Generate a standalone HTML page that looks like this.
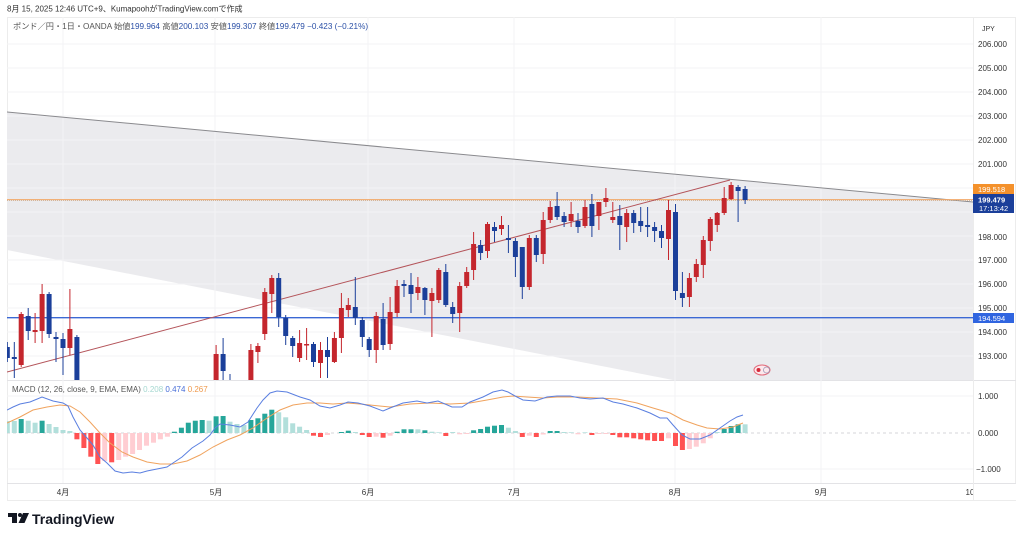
<!DOCTYPE html>
<html><head><meta charset="utf-8">
<style>
html,body{margin:0;padding:0;background:#fff;}
body{width:1024px;height:538px;overflow:hidden;position:relative;font-family:"Liberation Sans","Noto Sans CJK JP",sans-serif;}
svg{position:absolute;left:0;top:0;}
text{font-family:"Liberation Sans","Noto Sans CJK JP",sans-serif;}
</style></head>
<body>
<svg width="1024" height="538" viewBox="0 0 1024 538" xmlns="http://www.w3.org/2000/svg">
<defs>
<clipPath id="mp"><rect x="7" y="17" width="966" height="363"/></clipPath>
<clipPath id="mc"><rect x="7" y="380" width="966" height="103"/></clipPath>
</defs>
<!-- header -->
<text x="7" y="11.5" font-size="8" fill="#333">8月 15, 2025 12:46 UTC+9、KumapoohがTradingView.comで作成</text>

<!-- frame -->
<rect x="7.5" y="17.5" width="1008" height="483" fill="none" stroke="#ececec"/>

<!-- main pane -->
<g clip-path="url(#mp)">
<polygon points="7,112 973,202 973,380 673,380 7,250" fill="#ebebee"/>
<g stroke="#f3f3f5" stroke-width="1">
<line x1="7" y1="44" x2="973" y2="44"/><line x1="7" y1="68" x2="973" y2="68"/><line x1="7" y1="92" x2="973" y2="92"/><line x1="7" y1="116" x2="973" y2="116"/><line x1="7" y1="140" x2="973" y2="140"/><line x1="7" y1="164" x2="973" y2="164"/><line x1="7" y1="188" x2="973" y2="188"/><line x1="7" y1="212" x2="973" y2="212"/><line x1="7" y1="236" x2="973" y2="236"/><line x1="7" y1="260" x2="973" y2="260"/><line x1="7" y1="284" x2="973" y2="284"/><line x1="7" y1="308" x2="973" y2="308"/><line x1="7" y1="332" x2="973" y2="332"/><line x1="7" y1="356" x2="973" y2="356"/>
<line x1="63" y1="17" x2="63" y2="380"/><line x1="215" y1="17" x2="215" y2="380"/><line x1="368" y1="17" x2="368" y2="380"/><line x1="514" y1="17" x2="514" y2="380"/><line x1="675" y1="17" x2="675" y2="380"/><line x1="821" y1="17" x2="821" y2="380"/>
</g>
<line x1="7" y1="112" x2="973" y2="202" stroke="#8a8a8e" stroke-width="1"/>
<line x1="7" y1="199.6" x2="973" y2="199.6" stroke="#f2a766" stroke-width="1"/>
<line x1="7" y1="200.6" x2="973" y2="200.6" stroke="#c9a88a" stroke-width="0.8" stroke-dasharray="1 1"/>
<line x1="7" y1="317.7" x2="973" y2="317.7" stroke="#3b68d4" stroke-width="1.4"/>
<line x1="7" y1="372" x2="730" y2="180" stroke="#b4545a" stroke-width="1"/>

<!-- candles -->
<g stroke-width="1">
<g fill="#1b3f9a" stroke="#1b3f9a">
<line x1="7.3" y1="342" x2="7.3" y2="362"/><rect x="4.8" y="347" width="5" height="11" stroke="none"/>
<line x1="14.3" y1="342" x2="14.3" y2="378"/><rect x="11.8" y="357" width="5" height="2" stroke="none"/>
<line x1="28.2" y1="308" x2="28.2" y2="340"/><rect x="25.7" y="316" width="5" height="15" stroke="none"/>
<line x1="49.1" y1="292" x2="49.1" y2="338"/><rect x="46.6" y="294" width="5" height="40" stroke="none"/>
<line x1="56" y1="332" x2="56" y2="362"/><rect x="53.5" y="337" width="5" height="2" stroke="none"/>
<line x1="63" y1="333" x2="63" y2="375"/><rect x="60.5" y="339" width="5" height="9" stroke="none"/>
<line x1="76.9" y1="335" x2="76.9" y2="380"/><rect x="74.4" y="337" width="5" height="43" stroke="none"/>
<line x1="223.1" y1="338" x2="223.1" y2="380"/><rect x="220.6" y="354" width="5" height="17" stroke="none"/>
<line x1="230" y1="374" x2="230" y2="380"/>
<line x1="278.7" y1="273" x2="278.7" y2="327"/><rect x="276.2" y="278" width="5" height="39" stroke="none"/>
<line x1="285.7" y1="315" x2="285.7" y2="345"/><rect x="283.2" y="318" width="5" height="18" stroke="none"/>
<line x1="292.7" y1="336" x2="292.7" y2="357"/><rect x="290.2" y="338" width="5" height="8" stroke="none"/>
<line x1="313.5" y1="342" x2="313.5" y2="367"/><rect x="311" y="344" width="5" height="18" stroke="none"/>
<line x1="327.5" y1="337" x2="327.5" y2="378"/><rect x="325" y="350" width="5" height="7" stroke="none"/>
<line x1="355.3" y1="277" x2="355.3" y2="325"/><rect x="352.8" y="307" width="5" height="11" stroke="none"/>
<line x1="362.3" y1="317" x2="362.3" y2="347"/><rect x="359.8" y="320" width="5" height="17" stroke="none"/>
<line x1="369.2" y1="337" x2="369.2" y2="357"/><rect x="366.7" y="339" width="5" height="11" stroke="none"/>
<line x1="383.1" y1="303" x2="383.1" y2="350"/><rect x="380.6" y="319" width="5" height="26" stroke="none"/>
<line x1="404" y1="280" x2="404" y2="297"/><rect x="401.5" y="284" width="5" height="2" stroke="none"/>
<line x1="411" y1="273" x2="411" y2="313"/><rect x="408.5" y="285" width="5" height="9" stroke="none"/>
<line x1="424.9" y1="287" x2="424.9" y2="315"/><rect x="422.4" y="288" width="5" height="12" stroke="none"/>
<line x1="445.8" y1="264" x2="445.8" y2="307"/><rect x="443.3" y="272" width="5" height="33" stroke="none"/>
<line x1="452.7" y1="302" x2="452.7" y2="323"/><rect x="450.2" y="307" width="5" height="7" stroke="none"/>
<line x1="480.6" y1="240" x2="480.6" y2="260"/><rect x="478.1" y="245" width="5" height="8" stroke="none"/>
<line x1="494.5" y1="222" x2="494.5" y2="242"/><rect x="492" y="227" width="5" height="4" stroke="none"/>
<line x1="508.4" y1="225" x2="508.4" y2="253"/><rect x="505.9" y="238" width="5" height="2" stroke="none"/>
<line x1="515.4" y1="238" x2="515.4" y2="277"/><rect x="512.9" y="241" width="5" height="16" stroke="none"/>
<line x1="522.3" y1="247" x2="522.3" y2="299"/><rect x="519.8" y="247" width="5" height="40" stroke="none"/>
<line x1="536.3" y1="235" x2="536.3" y2="262"/><rect x="533.8" y="238" width="5" height="17" stroke="none"/>
<line x1="557.1" y1="192" x2="557.1" y2="220"/><rect x="554.6" y="206" width="5" height="11" stroke="none"/>
<line x1="564.1" y1="212" x2="564.1" y2="227"/><rect x="561.6" y="216" width="5" height="6" stroke="none"/>
<line x1="578" y1="213" x2="578" y2="233"/><rect x="575.5" y="221" width="5" height="6" stroke="none"/>
<line x1="591.9" y1="194" x2="591.9" y2="237"/><rect x="589.4" y="204" width="5" height="22" stroke="none"/>
<line x1="619.8" y1="205" x2="619.8" y2="250"/><rect x="617.3" y="216" width="5" height="9" stroke="none"/>
<line x1="633.7" y1="210" x2="633.7" y2="233"/><rect x="631.2" y="213" width="5" height="10" stroke="none"/>
<line x1="640.7" y1="207" x2="640.7" y2="232"/><rect x="638.2" y="221" width="5" height="5" stroke="none"/>
<line x1="647.6" y1="207" x2="647.6" y2="237"/><rect x="645.1" y="225" width="5" height="2" stroke="none"/>
<line x1="654.6" y1="222" x2="654.6" y2="242"/><rect x="652.1" y="227" width="5" height="4" stroke="none"/>
<line x1="661.5" y1="225" x2="661.5" y2="248"/><rect x="659" y="231" width="5" height="7" stroke="none"/>
<line x1="675.5" y1="204" x2="675.5" y2="300"/><rect x="673" y="212" width="5" height="79" stroke="none"/>
<line x1="682.4" y1="272" x2="682.4" y2="307"/><rect x="679.9" y="293" width="5" height="5" stroke="none"/>
<line x1="738.1" y1="185" x2="738.1" y2="222"/><rect x="735.6" y="187" width="5" height="4" stroke="none"/>
<line x1="745.1" y1="186" x2="745.1" y2="204"/><rect x="742.6" y="189" width="5" height="11" stroke="none"/>
</g>
<g fill="#c4262d" stroke="#c4262d">
<line x1="21.2" y1="312" x2="21.2" y2="367"/><rect x="18.7" y="314" width="5" height="51" stroke="none"/>
<line x1="35.1" y1="313" x2="35.1" y2="343"/><rect x="32.6" y="330" width="5" height="2" stroke="none"/>
<line x1="42.1" y1="284" x2="42.1" y2="343"/><rect x="39.6" y="294" width="5" height="37" stroke="none"/>
<line x1="69.9" y1="289" x2="69.9" y2="355"/><rect x="67.4" y="329" width="5" height="19" stroke="none"/>
<line x1="216.1" y1="345" x2="216.1" y2="380"/><rect x="213.6" y="354" width="5" height="26" stroke="none"/>
<line x1="250.9" y1="344" x2="250.9" y2="380"/><rect x="248.4" y="350" width="5" height="30" stroke="none"/>
<line x1="257.9" y1="343" x2="257.9" y2="363"/><rect x="255.4" y="346" width="5" height="6" stroke="none"/>
<line x1="264.8" y1="288" x2="264.8" y2="340"/><rect x="262.3" y="292" width="5" height="42" stroke="none"/>
<line x1="271.8" y1="275" x2="271.8" y2="313"/><rect x="269.3" y="278" width="5" height="16" stroke="none"/>
<line x1="299.6" y1="330" x2="299.6" y2="362"/><rect x="297.1" y="343" width="5" height="15" stroke="none"/>
<line x1="306.6" y1="328" x2="306.6" y2="360"/><rect x="304.1" y="344" width="5" height="1.5" stroke="none"/>
<line x1="320.5" y1="342" x2="320.5" y2="378"/><rect x="318" y="350" width="5" height="13" stroke="none"/>
<line x1="334.4" y1="332" x2="334.4" y2="363"/><rect x="331.9" y="338" width="5" height="24" stroke="none"/>
<line x1="341.4" y1="293" x2="341.4" y2="353"/><rect x="338.9" y="308" width="5" height="30" stroke="none"/>
<line x1="348.3" y1="298" x2="348.3" y2="317"/><rect x="345.8" y="305" width="5" height="5" stroke="none"/>
<line x1="376.2" y1="312" x2="376.2" y2="363"/><rect x="373.7" y="316" width="5" height="34" stroke="none"/>
<line x1="390.1" y1="297" x2="390.1" y2="350"/><rect x="387.6" y="312" width="5" height="32" stroke="none"/>
<line x1="397.1" y1="280" x2="397.1" y2="317"/><rect x="394.6" y="286" width="5" height="27" stroke="none"/>
<line x1="417.9" y1="277" x2="417.9" y2="300"/><rect x="415.4" y="287" width="5" height="6" stroke="none"/>
<line x1="431.9" y1="288" x2="431.9" y2="337"/><rect x="429.4" y="293" width="5" height="8" stroke="none"/>
<line x1="438.8" y1="268" x2="438.8" y2="303"/><rect x="436.3" y="270" width="5" height="30" stroke="none"/>
<line x1="459.7" y1="282" x2="459.7" y2="332"/><rect x="457.2" y="286" width="5" height="27" stroke="none"/>
<line x1="466.7" y1="267" x2="466.7" y2="288"/><rect x="464.2" y="272" width="5" height="14" stroke="none"/>
<line x1="473.6" y1="232" x2="473.6" y2="280"/><rect x="471.1" y="244" width="5" height="26" stroke="none"/>
<line x1="487.5" y1="222" x2="487.5" y2="258"/><rect x="485" y="224" width="5" height="27" stroke="none"/>
<line x1="501.5" y1="216" x2="501.5" y2="235"/><rect x="499" y="225" width="5" height="4" stroke="none"/>
<line x1="529.3" y1="235" x2="529.3" y2="290"/><rect x="526.8" y="238" width="5" height="49" stroke="none"/>
<line x1="543.2" y1="212" x2="543.2" y2="264"/><rect x="540.7" y="220" width="5" height="34" stroke="none"/>
<line x1="550.2" y1="201" x2="550.2" y2="223"/><rect x="547.7" y="207" width="5" height="13" stroke="none"/>
<line x1="571.1" y1="202" x2="571.1" y2="227"/><rect x="568.6" y="214" width="5" height="7" stroke="none"/>
<line x1="585" y1="200" x2="585" y2="228"/><rect x="582.5" y="207" width="5" height="19" stroke="none"/>
<line x1="598.9" y1="202" x2="598.9" y2="230"/><rect x="596.4" y="202" width="5" height="14" stroke="none"/>
<line x1="605.9" y1="188" x2="605.9" y2="207"/><rect x="603.4" y="198" width="5" height="4" stroke="none"/>
<line x1="612.8" y1="202" x2="612.8" y2="223"/><rect x="610.3" y="217" width="5" height="3" stroke="none"/>
<line x1="626.7" y1="209" x2="626.7" y2="242"/><rect x="624.2" y="213" width="5" height="14" stroke="none"/>
<line x1="668.5" y1="200" x2="668.5" y2="260"/><rect x="666" y="210" width="5" height="29" stroke="none"/>
<line x1="689.4" y1="273" x2="689.4" y2="307"/><rect x="686.9" y="278" width="5" height="19" stroke="none"/>
<line x1="696.3" y1="259" x2="696.3" y2="282"/><rect x="693.8" y="264" width="5" height="13" stroke="none"/>
<line x1="703.3" y1="236" x2="703.3" y2="278"/><rect x="700.8" y="240" width="5" height="25" stroke="none"/>
<line x1="710.3" y1="217" x2="710.3" y2="251"/><rect x="707.8" y="219" width="5" height="22" stroke="none"/>
<line x1="717.2" y1="212" x2="717.2" y2="232"/><rect x="714.7" y="213" width="5" height="12" stroke="none"/>
<line x1="724.2" y1="187" x2="724.2" y2="215"/><rect x="721.7" y="198" width="5" height="15" stroke="none"/>
<line x1="731.1" y1="182" x2="731.1" y2="200"/><rect x="728.6" y="185" width="5" height="14" stroke="none"/>
</g>
</g>
<!-- icon -->
<ellipse cx="762" cy="370" rx="8" ry="5" fill="#fde8ec" stroke="#e26a7a" stroke-width="1"/>
<circle cx="758.5" cy="370" r="2" fill="#d42a3a"/>
<circle cx="766.5" cy="370" r="3" fill="none" stroke="#9a9ab8" stroke-width="0.8"/>
</g>

<!-- legend -->
<text x="13" y="29" font-size="8.2" fill="#555">ポンド／円・1日・OANDA <tspan fill="#555">始値</tspan><tspan fill="#2a4fa6">199.964</tspan> <tspan fill="#555">高値</tspan><tspan fill="#2a4fa6">200.103</tspan> <tspan fill="#555">安値</tspan><tspan fill="#2a4fa6">199.307</tspan> <tspan fill="#555">終値</tspan><tspan fill="#2a4fa6">199.479</tspan> <tspan fill="#2a4fa6">−0.423 (−0.21%)</tspan></text>

<!-- pane separators -->
<line x1="7" y1="380.5" x2="1016" y2="380.5" stroke="#e3e3e6"/>
<line x1="7" y1="483.5" x2="1016" y2="483.5" stroke="#e3e3e6"/>
<line x1="973.5" y1="17" x2="973.5" y2="500" stroke="#ececec"/>

<!-- MACD pane -->
<g clip-path="url(#mc)">
<g stroke="#f3f3f5">
<line x1="63" y1="380" x2="63" y2="483"/><line x1="215" y1="380" x2="215" y2="483"/><line x1="368" y1="380" x2="368" y2="483"/><line x1="514" y1="380" x2="514" y2="483"/><line x1="675" y1="380" x2="675" y2="483"/><line x1="821" y1="380" x2="821" y2="483"/>
<line x1="7" y1="396" x2="973" y2="396"/><line x1="7" y1="469" x2="973" y2="469"/>
</g>
<line x1="7" y1="433" x2="973" y2="433" stroke="#c8c8cc" stroke-dasharray="3 3" stroke-width="0.8"/>
<!-- histogram -->
<g>
<g fill="#b2dfdb">
<rect x="4.8" y="421" width="5" height="12"/><rect x="11.8" y="421" width="5" height="12"/><rect x="25.7" y="420.7" width="5" height="12.3"/><rect x="32.6" y="422.7" width="5" height="10.3"/><rect x="46.6" y="424" width="5" height="9"/><rect x="53.5" y="427" width="5" height="6"/><rect x="60.5" y="430" width="5" height="3"/><rect x="67.4" y="431" width="5" height="2"/>
<rect x="206.6" y="420.7" width="5" height="12.3"/><rect x="227.5" y="421.7" width="5" height="11.3"/><rect x="234.5" y="424" width="5" height="9"/><rect x="241.4" y="425" width="5" height="8"/>
<rect x="276.2" y="412.3" width="5" height="20.7"/><rect x="283.2" y="417.3" width="5" height="15.7"/><rect x="290.2" y="423.3" width="5" height="9.7"/><rect x="297.1" y="426.7" width="5" height="6.3"/><rect x="304.1" y="430" width="5" height="3"/>
<rect x="352.8" y="432" width="5" height="1"/>
<rect x="415.4" y="429.3" width="5" height="3.7"/><rect x="429.4" y="431.7" width="5" height="1.3"/><rect x="436.3" y="432.3" width="5" height="0.7"/><rect x="450.2" y="432" width="5" height="1"/>
<rect x="505.9" y="427.7" width="5" height="5.3"/><rect x="512.9" y="431" width="5" height="2"/>
<rect x="561.6" y="432" width="5" height="1"/><rect x="568.6" y="432.3" width="5" height="0.7"/><rect x="582.5" y="432.3" width="5" height="0.7"/>
<rect x="714.7" y="432" width="5" height="1"/><rect x="742.6" y="424.3" width="5" height="8.7"/>
</g>
<g fill="#26a69a">
<rect x="18.7" y="419" width="5" height="14"/><rect x="39.6" y="420.7" width="5" height="12.3"/>
<rect x="171.9" y="431.7" width="5" height="1.3"/><rect x="178.9" y="427.7" width="5" height="5.3"/><rect x="185.8" y="422.7" width="5" height="10.3"/><rect x="192.8" y="420.7" width="5" height="12.3"/><rect x="199.7" y="420" width="5" height="13"/><rect x="213.6" y="416.3" width="5" height="16.7"/><rect x="220.6" y="416" width="5" height="17"/>
<rect x="248.4" y="420" width="5" height="13"/><rect x="255.4" y="418.3" width="5" height="14.7"/><rect x="262.3" y="413.7" width="5" height="19.3"/><rect x="269.3" y="409.7" width="5" height="23.3"/>
<rect x="338.9" y="432" width="5" height="1"/><rect x="345.8" y="430.7" width="5" height="2.3"/>
<rect x="394.6" y="431.7" width="5" height="1.3"/><rect x="401.5" y="429.3" width="5" height="3.7"/><rect x="408.5" y="429.3" width="5" height="3.7"/><rect x="422.4" y="430.3" width="5" height="2.7"/>
<rect x="471.1" y="430.3" width="5" height="2.7"/><rect x="478.1" y="429" width="5" height="4"/><rect x="485" y="426.7" width="5" height="6.3"/><rect x="492" y="425.7" width="5" height="7.3"/><rect x="499" y="425" width="5" height="8"/>
<rect x="547.7" y="431" width="5" height="2"/><rect x="554.6" y="431" width="5" height="2"/>
<rect x="721.7" y="429" width="5" height="4"/><rect x="728.6" y="426" width="5" height="7"/><rect x="735.6" y="424.3" width="5" height="8.7"/>
</g>
<g fill="#ff5252">
<rect x="74.4" y="433" width="5" height="6.3"/><rect x="81.4" y="433" width="5" height="15"/><rect x="88.3" y="433" width="5" height="23.7"/><rect x="95.3" y="433" width="5" height="31"/><rect x="109.2" y="433" width="5" height="29.3"/>
<rect x="311" y="433" width="5" height="2.7"/><rect x="318" y="433" width="5" height="4"/>
<rect x="359.8" y="433" width="5" height="2"/><rect x="366.7" y="433" width="5" height="4"/><rect x="380.6" y="433" width="5" height="4.7"/>
<rect x="443.3" y="433" width="5" height="3"/>
<rect x="519.8" y="433" width="5" height="4"/><rect x="533.8" y="433" width="5" height="4"/>
<rect x="589.4" y="433" width="5" height="2"/><rect x="610.3" y="433" width="5" height="2"/><rect x="617.3" y="433" width="5" height="4.3"/><rect x="624.2" y="433" width="5" height="4.3"/><rect x="631.2" y="433" width="5" height="5.3"/><rect x="638.2" y="433" width="5" height="6.3"/><rect x="645.1" y="433" width="5" height="7.3"/><rect x="652.1" y="433" width="5" height="8"/><rect x="659" y="433" width="5" height="8"/>
<rect x="673" y="433" width="5" height="13"/><rect x="679.9" y="433" width="5" height="17"/>
</g>
<g fill="#ffcdd2">
<rect x="102.2" y="433" width="5" height="28"/><rect x="116.2" y="433" width="5" height="27"/><rect x="123.1" y="433" width="5" height="23.7"/><rect x="130.1" y="433" width="5" height="21"/><rect x="137" y="433" width="5" height="17"/><rect x="144" y="433" width="5" height="12.7"/><rect x="151" y="433" width="5" height="9.7"/><rect x="157.9" y="433" width="5" height="6.3"/><rect x="164.9" y="433" width="5" height="3.7"/>
<rect x="325" y="433" width="5" height="2"/><rect x="373.7" y="433" width="5" height="3.7"/><rect x="387.6" y="433" width="5" height="2.7"/>
<rect x="457.2" y="433" width="5" height="1.3"/><rect x="464.2" y="433" width="5" height="1"/>
<rect x="526.8" y="433" width="5" height="2.7"/><rect x="540.7" y="433" width="5" height="1.5"/>
<rect x="575.5" y="433" width="5" height="1.3"/><rect x="596.4" y="433" width="5" height="1"/><rect x="603.4" y="433" width="5" height="1"/>
<rect x="666" y="433" width="5" height="5.3"/><rect x="686.9" y="433" width="5" height="16"/><rect x="693.8" y="433" width="5" height="13.7"/><rect x="700.8" y="433" width="5" height="10.3"/><rect x="707.8" y="433" width="5" height="5.3"/>
</g>
</g>
<!-- signal -->
<polyline fill="none" stroke="#f0a35e" stroke-width="1" points="7,423 20,417 33,410 47,407 60,405 70,406 80,412 90,422 100,433 110,443 122,452 133,457 147,462 160,464 173,464 187,461 200,455 213,447 227,440 240,435 253,428 267,418 280,410 293,405 307,403 320,403 333,404 347,403 360,404 370,405 390,407 410,404 430,403 450,404 470,403 487,400 503,397 513,396 527,397 543,398 557,397 577,397 597,398 617,399 637,403 653,408 670,413 683,420 697,425 707,428 720,429 733,427 743,423"/>
<!-- macd -->
<polyline fill="none" stroke="#5a7fe0" stroke-width="1" points="7,410 13,407 20,404 30,402 42,397 53,401 63,403 68,406 73,417 80,430 87,438 93,445 100,457 107,463 115,471 123,473 132,472 140,473 147,471 157,469 167,467 173,463 182,457 192,448 203,441 210,435 215,428 220,424 230,425 240,427 248,422 257,408 263,400 270,393 277,391 287,392 300,397 310,400 320,406 330,408 340,405 348,402 358,403 370,406 383,411 390,408 403,403 417,401 427,403 438,401 452,407 462,407 470,402 483,397 493,392 502,390 508,392 517,397 523,400 535,401 547,397 557,396 570,396 580,398 590,399 603,398 613,402 623,404 637,408 650,413 660,418 667,418 673,425 682,435 690,439 700,439 710,435 720,428 730,421 737,417 743,415"/>
</g>
<text x="12" y="392" font-size="8" fill="#555">MACD (12, 26, close, 9, EMA, EMA) <tspan fill="#a6d8d1">0.208</tspan> <tspan fill="#4a6fd8">0.474</tspan> <tspan fill="#ef9a4e">0.267</tspan></text>

<!-- price axis -->
<g font-size="8" fill="#333">
<text x="982" y="31" font-size="7">JPY</text>
<text x="978" y="47">206.000</text><text x="978" y="71">205.000</text><text x="978" y="95">204.000</text><text x="978" y="119">203.000</text><text x="978" y="143">202.000</text><text x="978" y="167">201.000</text>
<text x="978" y="240">198.000</text><text x="978" y="263">197.000</text><text x="978" y="287">196.000</text><text x="978" y="311">195.000</text><text x="978" y="335">194.000</text><text x="978" y="359">193.000</text>
<text x="978" y="399">1.000</text><text x="978" y="436">0.000</text><text x="976" y="472">−1.000</text>
</g>
<rect x="973" y="184" width="41" height="10" fill="#f4912b"/>
<text x="978" y="192" font-size="7.5" fill="#fff">199.518</text>
<rect x="973" y="194" width="41" height="19" fill="#1b3f9a"/>
<text x="978" y="202.5" font-size="7.5" fill="#fff" font-weight="bold">199.479</text>
<text x="979" y="211" font-size="7.5" fill="#fff">17:13:42</text>
<rect x="973" y="313" width="41" height="10" fill="#3065e0"/>
<text x="978" y="321" font-size="7.5" fill="#fff">194.594</text>

<!-- time axis -->
<g font-size="8" fill="#333" text-anchor="middle">
<text x="63" y="495">4月</text><text x="216" y="495">5月</text><text x="368" y="495">6月</text><text x="514" y="495">7月</text><text x="675" y="495">8月</text><text x="821" y="495">9月</text><text x="970" y="495">10</text>
</g>
<rect x="974" y="484" width="42" height="16" fill="#fff"/>
<line x1="973.5" y1="483" x2="973.5" y2="500" stroke="#ececec"/>

<!-- logo -->
<g fill="#131722">
<rect x="8" y="513" width="9" height="4"/>
<rect x="12" y="513" width="5" height="10"/>
<circle cx="20" cy="515" r="2"/>
<polygon points="23,513 29,513 24.5,523 18.5,523"/>
</g>
<text x="32" y="524" font-size="14" font-weight="bold" fill="#131722">TradingView</text>
</svg>
</body></html>
